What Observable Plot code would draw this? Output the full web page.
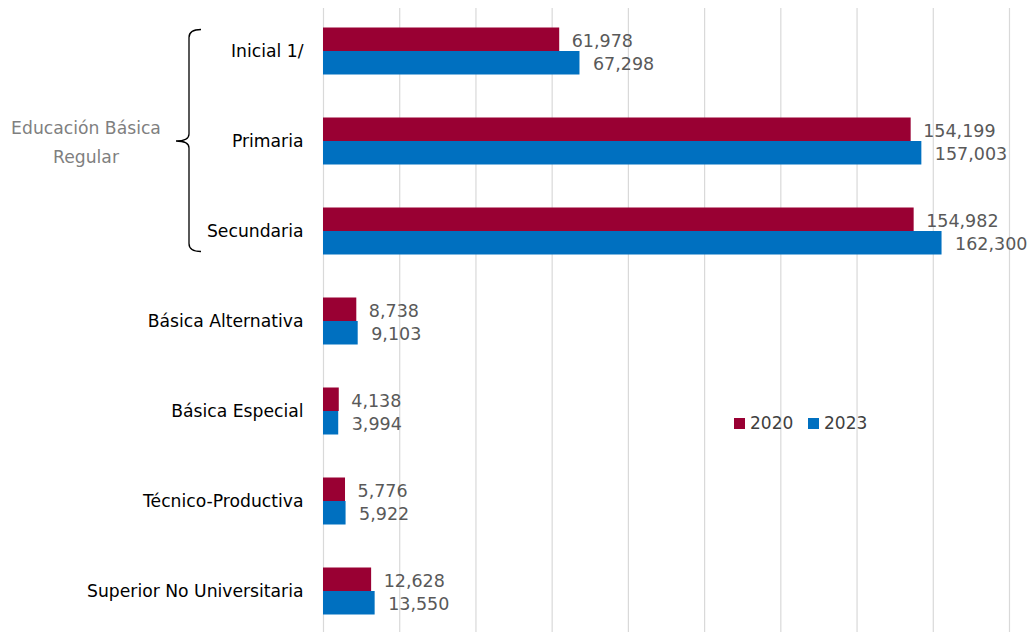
<!DOCTYPE html>
<html><head><meta charset="utf-8">
<script src="https://cdn.jsdelivr.net/npm/d3@7"></script>
<script src="https://cdn.jsdelivr.net/npm/@observablehq/plot@0.6"></script>
<style>body{margin:0;background:#fff} #chart{position:relative;width:1030px;height:636px}</style>
</head><body><div id="chart"></div>
<script>
const categories = ["Inicial 1/","Primaria","Secundaria","Básica Alternativa","Básica Especial","Técnico-Productiva","Superior No Universitaria"];
const years = ["2020","2023"];
const values2020 = [61978,154199,154982,8738,4138,5776,12628];
const values2023 = [67298,157003,162300,9103,3994,5922,13550];
const xTicks = [0,20000,40000,60000,80000,100000,120000,140000,160000,180000];
const groupLabel = ["Educación Básica","Regular"];
const groupMembers = ["Inicial 1/","Primaria","Secundaria"];
const colors = ["#990033","#0070C0"];

const rows2020 = categories.map((c,i)=>({category:c, year:years[0], value:values2020[i]}));
const rows2023 = categories.map((c,i)=>({category:c, year:years[1], value:values2023[i]}));
const fmt = d3.format(",");
const FONT = "DejaVu Sans, sans-serif";
const half = 23.5; // bar thickness in px

const chart = Plot.plot({
  width:1030, height:636, marginLeft:323, marginRight:21, marginTop:6, marginBottom:0,
  style:{fontFamily:FONT, background:"#fff", overflow:"visible"},
  x:{domain:[0,180000], axis:null},
  y:{domain:categories, padding:0, label:null},
  color:{domain:years, range:colors},
  marks:[
    Plot.ruleX(xTicks, {stroke:"#d9d9d9", strokeWidth:1.2, insetTop:2, insetBottom:4}),
    Plot.barX(rows2020, {x:"value", y:"category", fill:"year", insetTop:45-half, insetBottom:45}),
    Plot.barX(rows2023, {x:"value", y:"category", fill:"year", insetTop:45, insetBottom:45-half}),
    Plot.text(rows2020, {x:"value", y:"category", text:d=>fmt(d.value), dx:12, dy:-10, textAnchor:"start", fill:"#595959", fontSize:17.5}),
    Plot.text(rows2023, {x:"value", y:"category", text:d=>fmt(d.value), dx:13, dy:13, textAnchor:"start", fill:"#595959", fontSize:17.5}),
    Plot.axisY({tickSize:0, tickPadding:20, fontSize:17.2, fill:"#000", label:null})
  ]
});
document.getElementById("chart").appendChild(chart);

// bracket & group label, legend
const ys = chart.scale("y");
const svg = d3.select(chart);
const bTop = ys.apply(groupMembers[0]) + 45 - half + 2;
const bBot = ys.apply(groupMembers[groupMembers.length-1]) + 45 + half - 3;
const bMid = ys.apply(groupMembers[1]) + 45;
const xr = 201, xv = 189, xt = 176;
svg.append("path")
  .attr("d", `M${xr},${bTop} Q${xv},${bTop} ${xv},${bTop+8} L${xv},${bMid-7} Q${xv},${bMid} ${xt},${bMid} Q${xv},${bMid} ${xv},${bMid+7} L${xv},${bBot-8} Q${xv},${bBot} ${xr},${bBot}`)
  .attr("fill","none").attr("stroke","#000").attr("stroke-width",1.3);
svg.append("text").attr("x",86).attr("y",bMid).attr("text-anchor","middle")
  .attr("font-family",FONT).attr("font-size",17.2).attr("fill","#7f7f7f")
  .selectAll("tspan").data(groupLabel).join("tspan")
  .attr("x",86).attr("dy",(d,i)=>i===0?"-0.4em":"1.65em").text(d=>d);

const lg = svg.append("g").attr("font-family",FONT).attr("font-size",17).attr("fill","#404040").attr("text-anchor","start");
const lx = [734, 808];
years.forEach((yr,i)=>{
  lg.append("rect").attr("x",lx[i]).attr("y",418).attr("width",11).attr("height",11).attr("fill",colors[i]);
  lg.append("text").attr("x",lx[i]+16).attr("y",423.5).attr("dy","0.35em").text(yr);
});
</script></body></html>
